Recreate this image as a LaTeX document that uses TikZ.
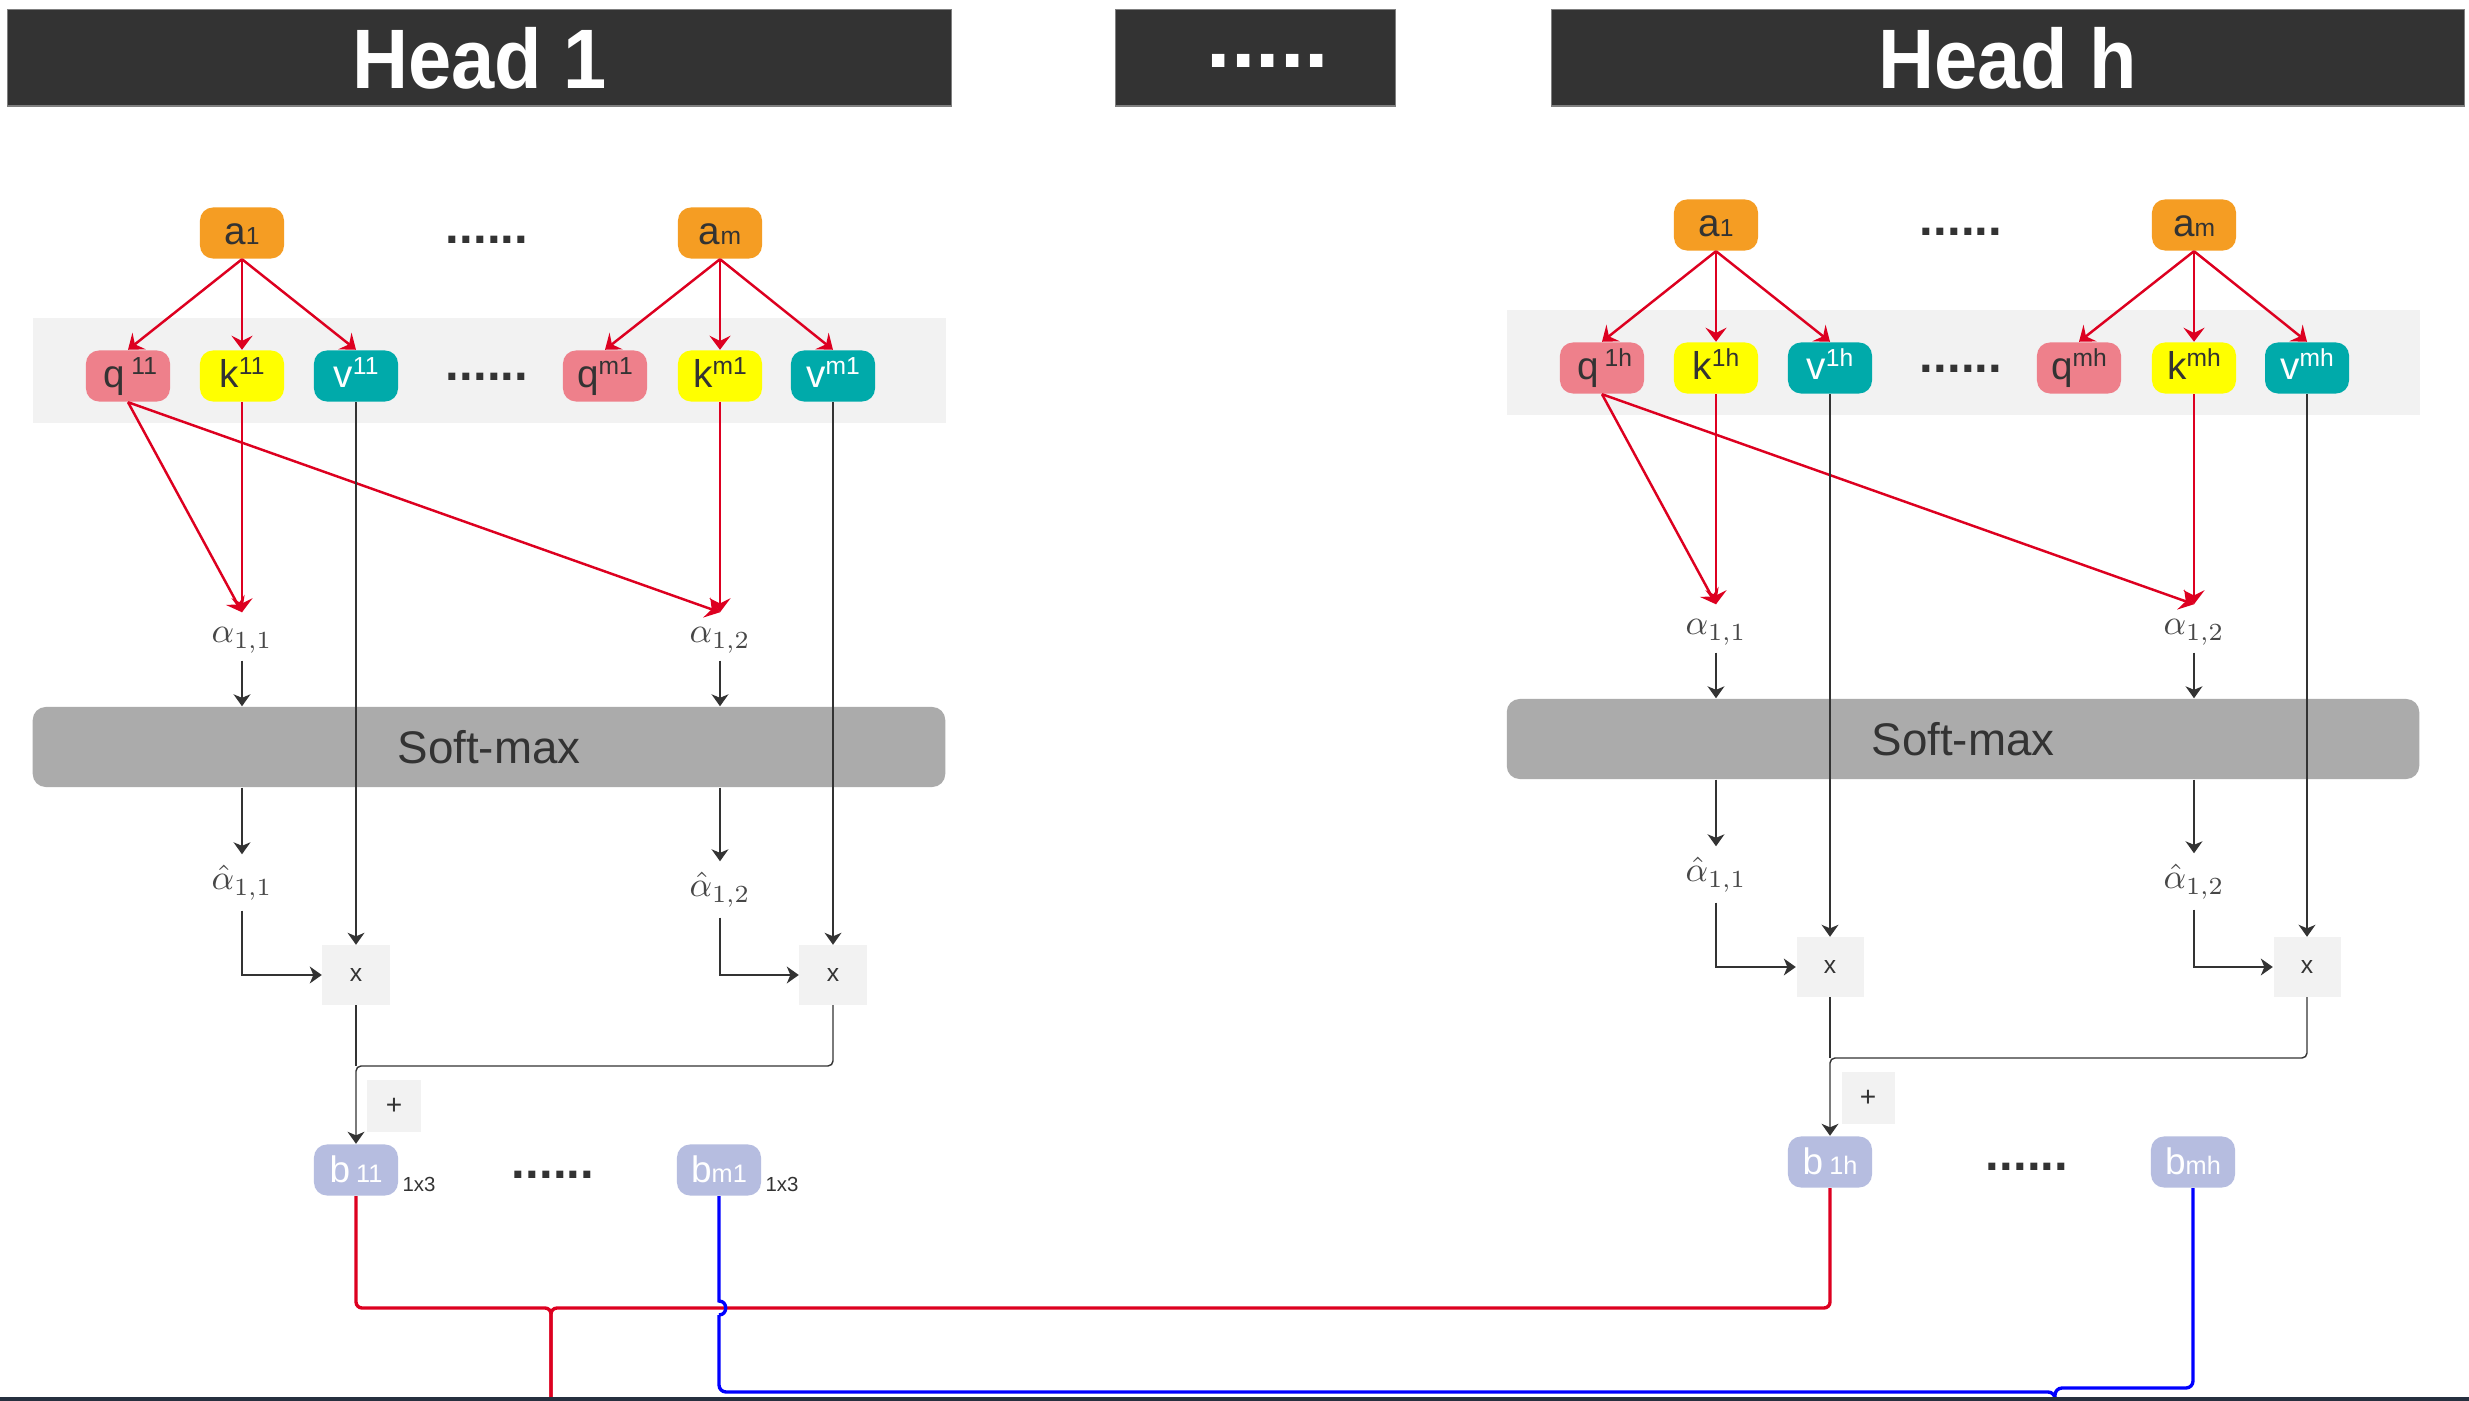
\documentclass[tikz,border=0pt]{standalone}
\usepackage[no-math]{fontspec}
\setmainfont{Liberation Sans}
\usetikzlibrary{arrows.meta}
\definecolor{hdrc}{HTML}{333333}
\definecolor{hdredge}{HTML}{7F7F7F}
\definecolor{aor}{HTML}{F59D23}
\definecolor{qpink}{HTML}{EE808B}
\definecolor{kyel}{HTML}{FFFF00}
\definecolor{vteal}{HTML}{00AAAA}
\definecolor{blav}{HTML}{B6BDE0}
\definecolor{bandgray}{HTML}{F2F2F2}
\definecolor{softgray}{HTML}{ABABAB}
\definecolor{opgray}{HTML}{F2F2F2}
\definecolor{redc}{HTML}{DD0020}
\definecolor{bluec}{HTML}{0000FF}
\definecolor{txt}{HTML}{333333}
\definecolor{algray}{HTML}{474747}
\definecolor{bottomc}{HTML}{26303F}
\newcommand\mysup[1]{\raisebox{0.13cm}{\fontsize{7}{8}\selectfont #1}}
\newcommand\mysub[1]{{\fontsize{7}{8}\selectfont #1}}
\newcommand\mysubb[1]{{\fontsize{7.2}{8}\selectfont #1}}
\tikzset{
  box/.style={rounded corners=0.13cm, minimum width=0.84cm, minimum height=0.51cm,
    inner sep=0pt, text height=0.3cm, text depth=0.06cm,
    font=\fontsize{11}{12}\selectfont, text=txt},
  abox/.style={box, fill=aor},
  qbox/.style={box, fill=qpink},
  kbox/.style={box, fill=kyel},
  vbox/.style={box, fill=vteal, text=white},
  bbox/.style={box, fill=blav, text=white, font=\fontsize{10.5}{12}\selectfont},
  opbox/.style={fill=opgray, minimum width=0.67cm, minimum height=0.59cm, inner sep=0pt,
    text=txt, font=\fontsize{7}{8}\selectfont},
  plusbox/.style={fill=opgray, minimum width=0.53cm, minimum height=0.52cm, inner sep=0pt,
    text=txt, font=\fontsize{8}{9}\selectfont},
  bandbox/.style={fill=bandgray, minimum width=9.12cm, minimum height=1.05cm, inner sep=0pt},
  soft/.style={fill=softgray, rounded corners=0.13cm, minimum width=9.12cm, minimum height=0.80cm,
    inner sep=0pt, font=\fontsize{13}{15}\selectfont, text=txt},
  alab/.style={inner sep=0pt, text height=0.3cm, text depth=0.17cm, anchor=base,
    text=algray, font=\fontsize{10}{11}\selectfont},
  ahlab/.style={inner sep=0pt, text height=0.35cm, text depth=0.2cm, anchor=base,
    text=algray, font=\fontsize{10}{11}\selectfont},
  redarr/.style={draw=redc, line width=0.7pt, -{Stealth[length=4pt,width=6pt,inset=1.5pt]}},
  blkarr/.style={draw=txt, line width=0.4pt, -{Stealth[length=3.4pt,width=4.8pt,inset=1pt]}},
  blkline/.style={draw=txt, line width=0.4pt},
  rowdots/.style={font=\fontsize{14}{15}\selectfont\bfseries, text=txt, inner sep=0pt},
  hdr/.style={fill=hdrc, draw=hdredge, line width=0.3pt, minimum height=0.96cm, inner sep=0pt,
    text=white, font=\fontsize{24}{28}\selectfont\bfseries},
  small/.style={inner sep=0pt, text=txt, font=\fontsize{5.8}{6}\selectfont},
  redl/.style={draw=redc, line width=0.95pt},
  bluel/.style={draw=bluec, line width=0.95pt},
}
\newcommand\headbody[2]{%
  \node[bandbox] (#1band) at (489.5,370.5) {};
  \node[soft] (#1soft) at (489,747) {Soft-max};
  \node[abox] (#1a1) at (242,233) {a\mysub{1}};
  \node[abox] (#1am) at (720,233) {a\mysub{m}};
  \node[rowdots] (#1dA) at (487,240) {......};
  \node[qbox] (#1q1) at (128,376) {\hspace{0.05cm}q\hspace{0.06cm}\mysup{1#2}};
  \node[kbox] (#1k1) at (242,376) {k\mysup{1#2}};
  \node[vbox] (#1v1) at (356,376) {v\mysup{1#2}};
  \node[rowdots] (#1dB) at (487,377) {......};
  \node[qbox] (#1qm) at (605,376) {q\mysup{m#2}};
  \node[kbox] (#1km) at (720,376) {k\mysup{m#2}};
  \node[vbox] (#1vm) at (833,376) {v\mysup{m#2}};
  \node[alab] (#1al1) at (242,643) {$\alpha_{1,1}$};
  \node[alab] (#1al2) at (720,643) {$\alpha_{1,2}$};
  \node[ahlab] (#1ah1) at (242,890) {$\hat{\alpha}_{1,1}$};
  \node[ahlab] (#1ah2) at (720,897) {$\hat{\alpha}_{1,2}$};
  \node[opbox] (#1x1) at (356,975) {x};
  \node[opbox] (#1x2) at (833,975) {x};
  \node[plusbox] (#1pl) at (394,1106) {+};
  \node[bbox] (#1b1) at (356,1170) {b\,\mysubb{1#2}};
  \node[bbox] (#1bm) at (719,1170) {b\mysubb{m#2}};
  \node[rowdots] (#1dC) at (553,1175) {......};
  \coordinate (#1j) at (356,1066);
  \draw[redarr] (#1a1.south) -- (#1q1.north);
  \draw[redarr] (#1a1.south) -- (#1k1.north);
  \draw[redarr] (#1a1.south) -- (#1v1.north);
  \draw[redarr] (#1am.south) -- (#1qm.north);
  \draw[redarr] (#1am.south) -- (#1km.north);
  \draw[redarr] (#1am.south) -- (#1vm.north);
  \draw[redarr] (#1q1.south) -- (#1al1.north);
  \draw[redarr] (#1k1.south) -- (#1al1.north);
  \draw[redarr] (#1q1.south) -- (#1al2.north);
  \draw[redarr] (#1km.south) -- (#1al2.north);
  \draw[blkarr] (#1al1.south) -- (#1al1.south |- #1soft.north);
  \draw[blkarr] (#1al2.south) -- (#1al2.south |- #1soft.north);
  \draw[blkarr] (#1al1.south |- #1soft.south) -- (#1ah1.north);
  \draw[blkarr] (#1al2.south |- #1soft.south) -- (#1ah2.north);
  \draw[blkarr] (#1v1.south) -- (#1x1.north);
  \draw[blkarr] (#1vm.south) -- (#1x2.north);
  \draw[blkarr] (#1ah1.south) |- (#1x1.west);
  \draw[blkarr] (#1ah2.south) |- (#1x2.west);
  \draw[blkline] (#1x1.south) -- (#1j);
  \draw[blkarr, rounded corners=0.05cm] (#1x2.south) |- (#1j) -- (#1b1.north);
}
\begin{document}
\begin{tikzpicture}[x=0.01cm, y=-0.01cm]
  \path[use as bounding box] (0,0) rectangle (2469,1401);
  \clip (0,0) rectangle (2469,1401);
  \fill[white] (0,0) rectangle (2469,1401);
  % headers
  \node[hdr, minimum width=9.43cm] (H1) at (479.5,58) {\scalebox{0.92}[1]{Head 1}};
  \node[hdr, minimum width=2.79cm] (Hd) at (1255.5,58) {};
  \node[inner sep=0pt, text=white, font=\fontsize{25}{28}\selectfont\bfseries] (Hdt) at (1268,61) {.....};
  \node[hdr, minimum width=9.12cm] (Hh) at (2008,58) {\scalebox{0.92}[1]{Head h}};
  % heads
  \headbody{L}{1}
  \node[small] (Ls1) at (419,1184) {1x3};
  \node[small] (Ls2) at (782,1184) {1x3};
  \begin{scope}[shift={(1474,-8)}]
    \headbody{R}{h}
  \end{scope}
  % output connectors
  \coordinate (rj) at (551,1308);
  \coordinate (rend) at (551,1430);
  \draw[redl, rounded corners=0.06cm] (Lb1.south) |- (rj) -- (rend);
  \draw[redl, rounded corners=0.06cm] (Rb1.south) |- (rj) -- (rend);
  \coordinate (hopA) at (719,1301);
  \coordinate (hopB) at (719,1315);
  \coordinate (bjL) at (2055,1392);
  \coordinate (bjR) at (2055,1388);
  \coordinate (bend) at (2055,1430);
  \draw[bluel] (Lbm.south) -- (hopA) .. controls +(9,0) and +(9,0) .. (hopB);
  \draw[bluel, rounded corners=0.07cm] (hopB) |- (bjL) -- (bend);
  \draw[bluel, rounded corners=0.07cm] (Rbm.south) |- (bjR) -- (bend);
  \fill[bottomc] (0,1397) rectangle (2469,1401);
\end{tikzpicture}
\end{document}
